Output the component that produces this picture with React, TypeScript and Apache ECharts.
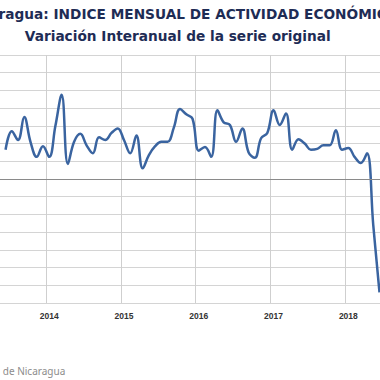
import React, { useEffect, useRef } from "react";
import * as echarts from "echarts";

const years = [2013, 2014, 2015, 2016, 2017, 2018];
const monthsPerYear = 12;

// Variación interanual (%) por mes, desde enero 2013 (null = fuera de la vista)
const values2013 = [null, null, null, null, null, 3.3, 5.4, 4.4, 7.0, 4.2, 2.5, 3.7];
const values2014 = [2.5, 6.0, 9.5, 1.7, 4.2, 5.1, 3.8, 2.9, 4.7, 4.4, 5.2, 5.7];
const values2015 = [4.4, 2.9, 4.9, 1.2, 2.7, 3.7, 4.2, 4.2, 5.8, 7.9, 7.3, 6.8];
const values2016 = [3.2, 3.6, 2.5, 7.75, 6.4, 6.1, 4.2, 5.7, 3.0, 2.4, 4.6, 5.2];
const values2017 = [7.75, 6.1, 7.4, 3.3, 4.5, 4.0, 3.3, 3.4, 3.8, 3.8, 5.5, 3.3];
const values2018 = [3.5, 2.5, 1.8, 2.9, -5.2, -12.8, null, null, null, null, null, null];

const yMin = -14;
const yMax = 14;
const yInterval = 2;

const titleText = "Nicaragua: INDICE MENSUAL DE ACTIVIDAD ECONÓMICA";
const subtitleText = "Variación Interanual de la serie original";
const sourceText = "Fuente: Banco Central de Nicaragua";

// the chart is wider than the window; the window shows only part of it
const OFFSET_LEFT = 38.25;
const CHART_WIDTH = 457.5;

export default function App() {
  const ref = useRef<HTMLDivElement>(null);

  useEffect(() => {
    if (!ref.current) return;
    const chart = echarts.init(ref.current, null, { renderer: "svg" });

    const categories: string[] = [];
    years.forEach((y) => {
      for (let m = 1; m <= monthsPerYear; m++) {
        categories.push(`${y}-${m < 10 ? "0" + m : m}`);
      }
    });
    const values = [
      ...values2013,
      ...values2014,
      ...values2015,
      ...values2016,
      ...values2017,
      ...values2018,
    ];

    chart.setOption({
      animation: false,
      backgroundColor: "#ffffff",
      grid: { left: 0, right: 0, top: 55, bottom: 77, containLabel: false },
      xAxis: {
        type: "category",
        data: categories,
        boundaryGap: true,
        axisLine: { show: false },
        axisTick: { show: false },
        axisLabel: {
          interval: (i: number) => i % 12 === 0,
          formatter: (v: string) => v.slice(0, 4),
          color: "#333333",
          fontSize: 8.5,
          fontFamily: "Liberation Sans",
          fontWeight: "bold",
          margin: 8,
        },
        splitLine: {
          show: true,
          interval: (i: number) => i % 12 === 0,
          lineStyle: { color: "#cfcfcf", width: 1 },
        },
      },
      yAxis: {
        type: "value",
        min: yMin,
        max: yMax,
        interval: yInterval,
        axisLine: { show: false },
        axisTick: { show: false },
        axisLabel: { show: false },
        splitLine: { lineStyle: { color: "#d4d4d4", width: 1 } },
      },
      series: [
        {
          type: "line",
          data: values,
          smooth: 0.4,
          showSymbol: false,
          connectNulls: false,
          lineStyle: { color: "#3a64a0", width: 2.5 },
          markLine: {
            silent: true,
            symbol: "none",
            label: { show: false },
            lineStyle: { color: "#8a8a8a", width: 1, type: "solid" },
            data: [{ yAxis: 0 }],
          },
        },
      ],
      graphic: [
        {
          type: "text",
          x: OFFSET_LEFT + 181,
          y: 14,
          style: {
            text: titleText,
            fill: "#1e2c55",
            font: "bold 13.7px 'DejaVu Sans'",
            textAlign: "center",
            textVerticalAlign: "middle",
          },
        },
        {
          type: "text",
          x: OFFSET_LEFT + 177.5,
          y: 36,
          style: {
            text: subtitleText,
            fill: "#1e2c55",
            font: "bold 13.7px 'DejaVu Sans'",
            textAlign: "center",
            textVerticalAlign: "middle",
          },
        },
        {
          type: "text",
          x: OFFSET_LEFT + 65,
          y: 371,
          style: {
            text: sourceText,
            fill: "#8c8c8c",
            font: "10px 'Noto Sans'",
            textAlign: "right",
            textVerticalAlign: "middle",
          },
        },
      ],
    });

    return () => chart.dispose();
  }, []);

  return (
    <div
      ref={ref}
      style={{ position: "fixed", left: -OFFSET_LEFT, top: 0, width: CHART_WIDTH, height: 380 }}
    />
  );
}
